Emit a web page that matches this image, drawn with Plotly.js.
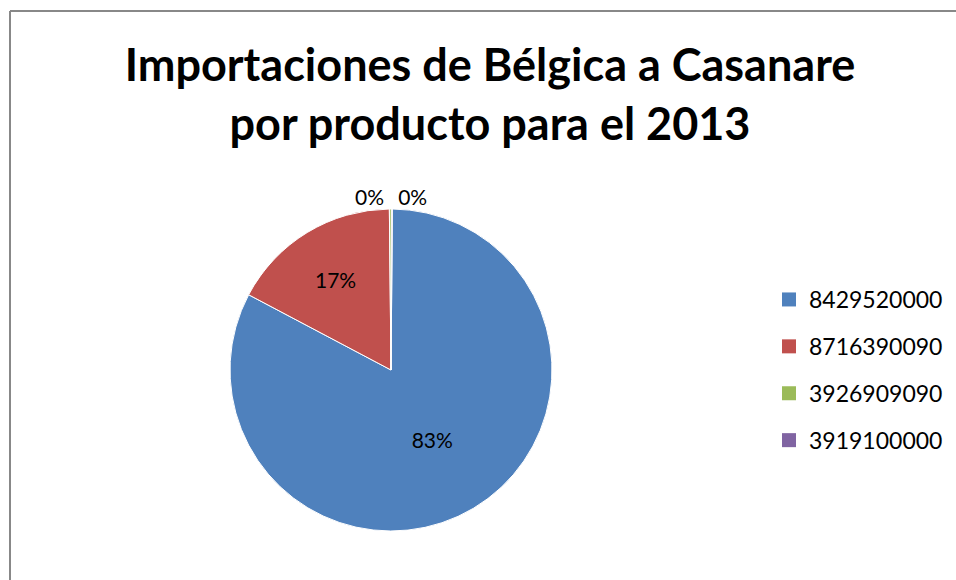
<!DOCTYPE html>
<html>
<head>
<meta charset="utf-8">
<script src="https://cdn.plot.ly/plotly-3.0.1.min.js"></script>
<style>html,body{margin:0;padding:0;background:#fff;}</style>
</head>
<body>
<div id="chart" style="width:956px;height:580px"></div>
<script>
const categories = ['8429520000', '8716390090', '3926909090', '3919100000'];
const shares = [82.6, 17.1, 0.2, 0.1];
const colors = ['#4F81BD', '#C0504D', '#9BBB59', '#8064A2'];
const textPositions = ['inside', 'inside', 'outside', 'outside'];
const titleText = 'Importaciones de Bélgica a Casanare<br>por producto para el 2013';

const W = 956, H = 580;
const cx = 391, cy = 370, r = 161;

const pie = {
  type: 'pie',
  labels: categories,
  values: shares,
  sort: false,
  direction: 'clockwise',
  rotation: 0.5,
  marker: {colors: colors, line: {color: '#ffffff', width: 1}},
  texttemplate: '%{percent:.0%}',
  textposition: textPositions,
  insidetextorientation: 'horizontal',
  textfont: {family: 'Lato, sans-serif', size: 21, color: '#000000'},
  showlegend: false,
  hoverinfo: 'label+percent',
  domain: {x: [(cx - r) / W, (cx + r) / W], y: [(H - cy - r) / H, (H - cy + r) / H]}
};

const legendTraces = categories.map((c, i) => ({
  type: 'scatter',
  x: [null], y: [null],
  mode: 'markers',
  name: c,
  legendgroup: 'g' + i,
  marker: {symbol: 'square', size: 14, color: colors[i]},
  hoverinfo: 'skip',
  showlegend: true
}));

const layout = {
  width: W, height: H,
  margin: {l: 0, r: 0, t: 0, b: 0},
  paper_bgcolor: '#ffffff',
  plot_bgcolor: '#ffffff',
  title: {
    text: '<b>' + titleText + '</b>',
    font: {family: 'Lato, sans-serif', size: 45, color: '#000000'},
    x: 490 / W, xanchor: 'center',
    y: 1 - 81 / H, yanchor: 'top',
    xref: 'paper', yref: 'paper'
  },
  xaxis: {visible: false},
  yaxis: {visible: false},
  showlegend: true,
  legend: {
    x: 769 / W, xanchor: 'left',
    y: 1 - 278 / H, yanchor: 'top',
    font: {family: 'Lato, sans-serif', size: 23, color: '#000000'},
    tracegroupgap: 14,
    bgcolor: 'rgba(0,0,0,0)'
  },
  shapes: [
    {type: 'line', xref: 'paper', yref: 'paper', x0: 10 / W, x1: 1, y0: 1 - 11 / H, y1: 1 - 11 / H, line: {color: '#888888', width: 2}},
    {type: 'line', xref: 'paper', yref: 'paper', x0: 10 / W, x1: 10 / W, y0: 1 - 11 / H, y1: 0, line: {color: '#888888', width: 2}}
  ]
};

Plotly.newPlot('chart', [pie].concat(legendTraces), layout, {displayModeBar: false, staticPlot: true});
</script>
</body>
</html>
